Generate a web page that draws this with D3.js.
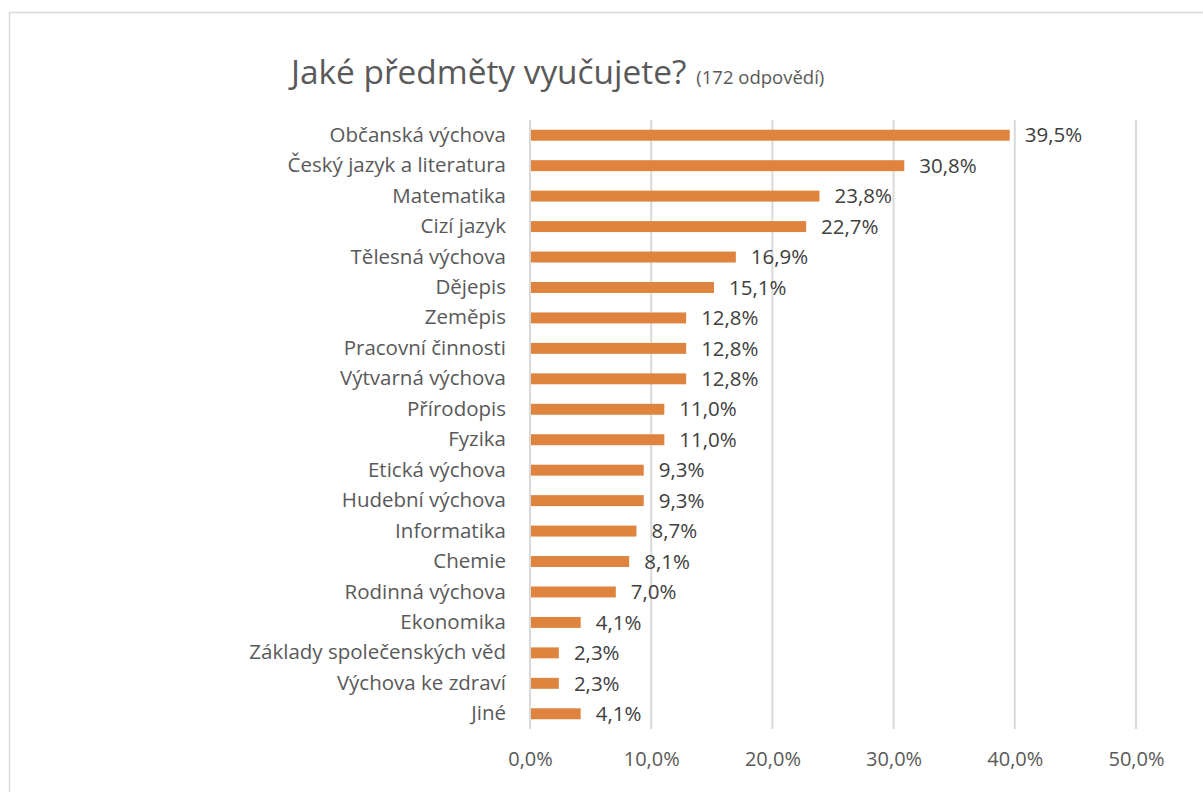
<!DOCTYPE html>
<html>
<head>
<meta charset="utf-8">
<script src="https://cdn.jsdelivr.net/npm/d3@7"></script>
<style>
  body { margin: 0; background: #fff; }
  svg { display: block; font-family: "Open Sans", "Noto Sans", sans-serif; }
</style>
</head>
<body>
<div id="chart"></div>
<script>
// chart data
const subjects = [
    "Občanská výchova", "Český jazyk a literatura", "Matematika", "Cizí jazyk",
    "Tělesná výchova", "Dějepis", "Zeměpis", "Pracovní činnosti",
    "Výtvarná výchova", "Přírodopis", "Fyzika", "Etická výchova",
    "Hudební výchova", "Informatika", "Chemie", "Rodinná výchova",
    "Ekonomika", "Základy společenských věd", "Výchova ke zdraví", "Jiné"
];
const shares = [39.5, 30.8, 23.8, 22.7, 16.9, 15.1, 12.8, 12.8, 12.8, 11.0,
    11.0, 9.3, 9.3, 8.7, 8.1, 7.0, 4.1, 2.3, 2.3, 4.1];
const xTicks = [0, 10, 20, 30, 40, 50];

const W = 1203, H = 792;
const margin = {top: 120, right: 67, bottom: 63, left: 530},
    width = W - margin.left - margin.right,
    height = H - margin.top - margin.bottom;

const fmt = v => v.toFixed(1).replace(".", ",") + "%";
const font = "'Open Sans', sans-serif";

const root = d3.select("#chart")
    .append("svg")
    .attr("width", W)
    .attr("height", H);

// outer frame of the chart area
root.append("rect")
    .attr("x", 9.5)
    .attr("y", 12.5)
    .attr("width", W + 20)
    .attr("height", H + 20)
    .attr("fill", "none")
    .attr("stroke", "#d9d9d9")
    .attr("stroke-width", 1.5);

// title
const title = root.append("text")
    .attr("x", 291)
    .attr("y", 84)
    .attr("fill", "#595959");
title.append("tspan")
    .attr("font-size", 33.4)
    .text("Jaké předměty vyučujete?");
title.append("tspan")
    .attr("font-size", 18.5)
    .attr("dx", 10)
    .text("(172 odpovědí)");

const svg = root.append("g")
    .attr("transform", `translate(${margin.left}, ${margin.top})`);

const x = d3.scaleLinear()
    .domain([0, 50])
    .range([0, width]);

const y = d3.scaleBand()
    .domain(subjects)
    .range([0, height])
    .paddingInner(0.64)
    .paddingOuter(0.32);

// vertical gridlines
svg.append("g")
    .selectAll("line")
    .data(xTicks)
    .enter()
    .append("line")
    .attr("x1", d => x(d))
    .attr("x2", d => x(d))
    .attr("y1", 0)
    .attr("y2", height)
    .attr("stroke", "#d9d9d9")
    .attr("stroke-width", 2);

// x axis labels
const xAxis = svg.append("g")
    .attr("transform", `translate(0, ${height})`)
    .call(d3.axisBottom(x).tickValues(xTicks).tickFormat(fmt).tickSize(0).tickPadding(23));
xAxis.select(".domain").remove();
xAxis.selectAll("text")
    .attr("font-family", font)
    .attr("font-size", 20)
    .attr("fill", "#595959");

// category labels
const yAxis = svg.append("g")
    .call(d3.axisLeft(y).tickSize(0).tickPadding(24));
yAxis.select(".domain").remove();
yAxis.selectAll("text")
    .attr("font-family", font)
    .attr("font-size", 20.5)
    .attr("fill", "#595959");

// bars
svg.selectAll("rect.bar")
    .data(subjects)
    .enter()
    .append("rect")
    .attr("class", "bar")
    .attr("x", x(0) + 1)
    .attr("y", d => y(d))
    .attr("width", (d, i) => x(shares[i]) - x(0))
    .attr("height", y.bandwidth())
    .attr("fill", "#df843e");

// value labels
svg.selectAll("text.val")
    .data(subjects)
    .enter()
    .append("text")
    .attr("class", "val")
    .attr("x", (d, i) => x(shares[i]) + 16)
    .attr("y", d => y(d) + y.bandwidth() / 2)
    .attr("dy", "0.35em")
    .attr("font-size", 20.5)
    .attr("fill", "#404040")
    .text((d, i) => fmt(shares[i]));
</script>
</body>
</html>
